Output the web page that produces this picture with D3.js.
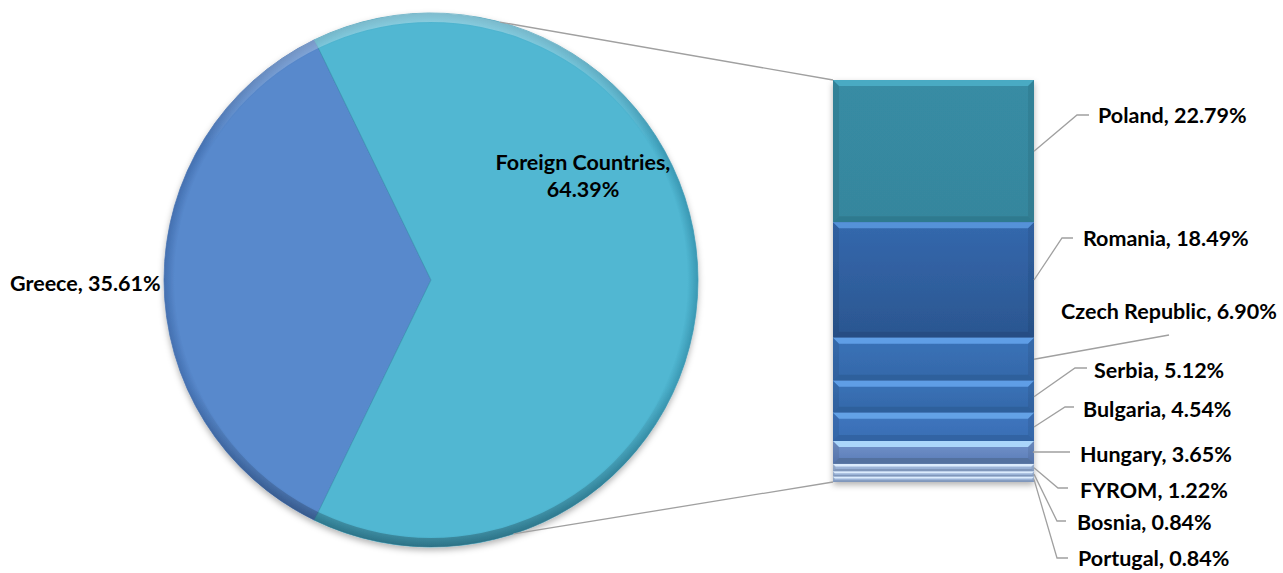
<!DOCTYPE html>
<html>
<head>
<meta charset="utf-8">
<script src="https://cdn.jsdelivr.net/npm/d3@7"></script>
<style>
  body { margin: 0; background: #fff; }
  text { font-family: Lato, "Open Sans", sans-serif; font-weight: bold; fill: #000; }
</style>
</head>
<body>
<div id="chart"></div>
<script>
// pie data
const pieNames = ["Greece", "Foreign Countries"];
const pieValues = [35.61, 64.39];

// breakdown of foreign countries (bar)
const countries = ["Poland", "Romania", "Czech Republic", "Serbia", "Bulgaria", "Hungary", "FYROM", "Bosnia", "Portugal"];
const countryValues = [22.79, 18.49, 6.90, 5.12, 4.54, 3.65, 1.22, 0.84, 0.84];

const width = 1283;
const height = 573;

const svg = d3.select("#chart").append("svg")
    .attr("width", width)
    .attr("height", height);

const defs = svg.append("defs");
const shadow = defs.append("filter").attr("id", "shadow")
    .attr("x", "-10%").attr("y", "-10%").attr("width", "120%").attr("height", "125%");
shadow.append("feDropShadow")
    .attr("dx", 0).attr("dy", 3).attr("stdDeviation", 3)
    .attr("flood-color", "#000").attr("flood-opacity", 0.3);

// ---- pie ----
const cx = 431, cy = 280, r = 267;
const pieColors = ["#5889cc", "#51b7d2"];
const rimColors = ["#4470b0", "#3a98b3"];

pieColors.forEach((c, i) => {
    const g = defs.append("radialGradient").attr("id", "pg" + i)
        .attr("gradientUnits", "userSpaceOnUse")
        .attr("cx", 0).attr("cy", 0).attr("r", r);
    g.append("stop").attr("offset", "0%").attr("stop-color", c);
    g.append("stop").attr("offset", "96%").attr("stop-color", c);
    g.append("stop").attr("offset", "100%").attr("stop-color", rimColors[i]);
});

// rim bevel: light on top, dark on bottom
const rimG = defs.append("linearGradient").attr("id", "rim")
    .attr("x1", 0).attr("y1", 0).attr("x2", 0).attr("y2", 1);
rimG.append("stop").attr("offset", "0%").attr("stop-color", "#fff").attr("stop-opacity", 0.35);
rimG.append("stop").attr("offset", "25%").attr("stop-color", "#fff").attr("stop-opacity", 0);
rimG.append("stop").attr("offset", "70%").attr("stop-color", "#000").attr("stop-opacity", 0);
rimG.append("stop").attr("offset", "100%").attr("stop-color", "#000").attr("stop-opacity", 0.25);

const half = pieValues[0] / 100 * Math.PI;
const pie = d3.pie().sort(null)
    .startAngle(1.5 * Math.PI - half)
    .endAngle(3.5 * Math.PI - half);
const arcs = pie(pieValues);
const arc = d3.arc().innerRadius(0).outerRadius(r);

const pieG = svg.append("g").attr("transform", `translate(${cx},${cy})`)
    .attr("filter", "url(#shadow)");

pieG.selectAll("path.slice")
    .data(arcs)
    .enter().append("path")
    .attr("class", "slice")
    .attr("d", arc)
    .attr("fill", (d, i) => `url(#pg${i})`)
    .attr("stroke", (d, i) => rimColors[i])
    .attr("stroke-opacity", 0.7)
    .attr("stroke-width", 1);

pieG.append("path")
    .attr("d", d3.arc().innerRadius(r - 9).outerRadius(r)({ startAngle: 0, endAngle: 2 * Math.PI }))
    .attr("fill", "url(#rim)");

// ---- bar ----
const barX = 833, barW = 201, barTop = 80, barBottom = 482;
const total = d3.sum(countryValues);
const y = d3.scaleLinear().domain([0, total]).range([barTop, barBottom]);

let acc = 0;
const segs = countries.map((name, i) => {
    const s = { name: name, value: countryValues[i], y0: acc };
    acc += countryValues[i];
    s.y1 = acc;
    return s;
});

const segColors = ["#378ca4", "#3468ad", "#3a72b8", "#3a72b8", "#3f76bf", "#7393c9", "#a9bfdf", "#a9bfdf", "#a9bfdf"];
const segBottom = ["#36869d", "#2b5690", "#3468a9", "#3468a9", "#386db3", "#5a7cb8", "#8ea8cf", "#8ea8cf", "#8ea8cf"];
const segLight = ["#4aaac3", "#5592d8", "#5f9ee6", "#5f9ee6", "#64a2e6", "#aad6fa", "#dcecfd", "#dcecfd", "#dcecfd"];
const segDark = ["#2f7a8f", "#274e84", "#2f609c", "#2f609c", "#3263a3", "#52719f", "#8097bb", "#8097bb", "#8097bb"];

segColors.forEach((c, i) => {
    const g = defs.append("linearGradient").attr("id", "bg" + i)
        .attr("x1", 0).attr("y1", 0).attr("x2", 0).attr("y2", 1);
    g.append("stop").attr("offset", "0%").attr("stop-color", c);
    g.append("stop").attr("offset", "100%").attr("stop-color", segBottom[i]);
});

const barG = svg.append("g").attr("filter", "url(#shadow)");
const segG = barG.selectAll("g.seg")
    .data(segs)
    .enter().append("g").attr("class", "seg");

segG.append("rect")
    .attr("x", barX)
    .attr("y", d => y(d.y0))
    .attr("width", barW)
    .attr("height", d => y(d.y1) - y(d.y0))
    .attr("fill", (d, i) => `url(#bg${i})`);

// bevel: light top band, dark bottom band, shaded sides
const bev = d => Math.min(6, (y(d.y1) - y(d.y0)) / 3);
segG.append("path")
    .attr("d", d => {
        const t = y(d.y0), b = bev(d);
        return `M${barX},${t}L${barX + barW},${t}L${barX + barW - b},${t + b}L${barX + b},${t + b}Z`;
    })
    .attr("fill", (d, i) => segLight[i]);
segG.append("path")
    .attr("d", d => {
        const bt = y(d.y1), b = bev(d);
        return `M${barX},${bt}L${barX + barW},${bt}L${barX + barW - b},${bt - b}L${barX + b},${bt - b}Z`;
    })
    .attr("fill", (d, i) => segDark[i]);
segG.append("path")
    .attr("d", d => {
        const t = y(d.y0), bt = y(d.y1), b = bev(d);
        return `M${barX},${t}L${barX + b},${t + b}L${barX + b},${bt - b}L${barX},${bt}Z` +
            `M${barX + barW},${t}L${barX + barW - b},${t + b}L${barX + barW - b},${bt - b}L${barX + barW},${bt}Z`;
    })
    .attr("fill", "#000").attr("opacity", 0.07);

// ---- connector lines pie -> bar ----
const topA = 15 * Math.PI / 180, botA = 162 * Math.PI / 180;
const pt = a => [cx + r * Math.sin(a), cy - r * Math.cos(a)];
svg.append("g").selectAll("line")
    .data([[pt(topA), [barX, barTop]], [pt(botA), [barX, barBottom]]])
    .enter().append("line")
    .attr("x1", d => d[0][0]).attr("y1", d => d[0][1])
    .attr("x2", d => d[1][0]).attr("y2", d => d[1][1])
    .attr("stroke", "#a0a0a0").attr("stroke-width", 1.3);

// ---- labels ----
const fontSize = 21.5;
// label layout: elbow point, end of horizontal stub, text start
const labelLayout = [
    { ex: 1077, ey: 115, hx: 1089, tx: 1098, ty: 115 },
    { ex: 1062, ey: 238, hx: 1073, tx: 1083, ty: 238 },
    { ex: 1169, ey: 335, hx: 1169, tx: 1061, ty: 311 },
    { ex: 1075, ey: 368, hx: 1087, tx: 1094, ty: 370 },
    { ex: 1065, ey: 407, hx: 1074, tx: 1083, ty: 409 },
    { ex: 1033, ey: 452, hx: 1070, tx: 1080, ty: 454 },
    { ex: 1058, ey: 488, hx: 1068, tx: 1080, ty: 490 },
    { ex: 1057, ey: 521, hx: 1066, tx: 1077, ty: 522 },
    { ex: 1057, ey: 558, hx: 1068, tx: 1078, ty: 558 }
];

const lab = svg.append("g").selectAll("g.lab")
    .data(segs)
    .enter().append("g").attr("class", "lab");

lab.append("polyline")
    .attr("points", (d, i) => {
        const L = labelLayout[i];
        const sy = (y(d.y0) + y(d.y1)) / 2;
        return `${barX + barW},${sy} ${L.ex},${L.ey} ${L.hx},${L.ey}`;
    })
    .attr("fill", "none")
    .attr("stroke", "#a0a0a0")
    .attr("stroke-width", 1.3);

lab.append("text")
    .attr("x", (d, i) => labelLayout[i].tx)
    .attr("y", (d, i) => labelLayout[i].ty)
    .attr("dominant-baseline", "central")
    .attr("font-size", fontSize)
    .text(d => `${d.name}, ${d.value.toFixed(2)}%`);

// pie labels
svg.append("text")
    .attr("x", 10).attr("y", 283)
    .attr("dominant-baseline", "central")
    .attr("font-size", fontSize)
    .text(`${pieNames[0]}, ${pieValues[0].toFixed(2)}%`);

const fl = svg.append("text")
    .attr("x", 583).attr("y", 162)
    .attr("text-anchor", "middle")
    .attr("font-size", fontSize);
fl.append("tspan").attr("x", 583).attr("dy", "0.35em").text(`${pieNames[1]},`);
fl.append("tspan").attr("x", 583).attr("dy", "1.3em").text(`${pieValues[1].toFixed(2)}%`);
</script>
</body>
</html>
